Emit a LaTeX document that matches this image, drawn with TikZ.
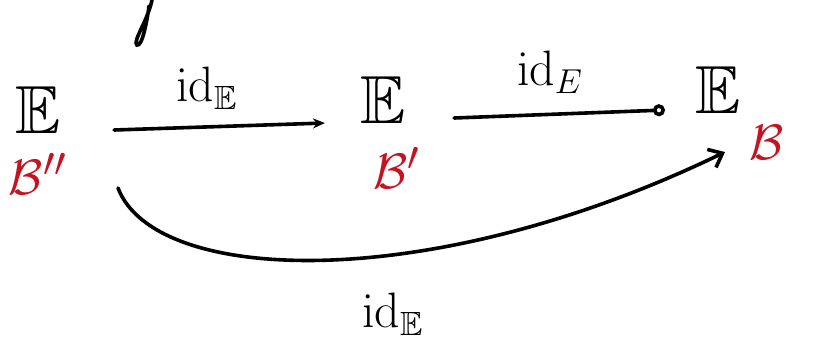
\documentclass[tikz,border=0pt]{standalone}
\usepackage{amssymb}
\usetikzlibrary{arrows.meta}
\definecolor{bred}{HTML}{C41422}
\begin{document}
\begin{tikzpicture}[x=0.5pt,y=-0.5pt,
  obj/.style={inner sep=0pt, font=\fontsize{34}{38}\selectfont},
  basis/.style={inner sep=0pt, text=bred, font=\fontsize{28}{32}\selectfont},
  lab/.style={inner sep=0pt, font=\fontsize{24}{28}\selectfont},
  conn/.style={line width=1.8pt, line cap=round}]
\useasboundingbox (0,0) rectangle (814,361);
% objects
\node[obj] (e1) at (38,110) {$\mathbb{E}$};
\node[obj] (e2) at (383,100) {$\mathbb{E}$};
\node[obj] (e3) at (718,90) {$\mathbb{E}$};
% bases
\node[basis] (b1) at (38,174) {$\mathcal{B}''$};
\node[basis] (b2) at (397,168) {$\mathcal{B}'$};
\node[basis] (b3) at (767,142) {$\mathcal{B}$};
% labels
\node[lab] (l1) at (207,88) {$\mathrm{id}_{\mathbb{E}}$};
\node[lab] (l2) at (550,72) {$\mathrm{id}_{E}$};
\node[lab] (l3) at (393,314) {$\mathrm{id}_{\mathbb{E}}$};
% connectors
\draw[conn,-{Stealth[length=6pt,width=5pt]}]
  ([shift={(53,20)}]e1.east) -- ([shift={(-35,23)}]e2.west);
\draw[conn,-{Circle[open,length=6pt,width=6pt]}]
  ([shift={(48,18)}]e2.east) -- ([shift={(-30,20)}]e3.west);
\coordinate (cs) at (118,188);
\coordinate (ce) at (725,152);
\draw[conn,-{Straight Barb[length=6pt,width=10pt]}]
  (cs) .. controls (155,285) and (430,295) .. (ce);
% stray stroke from the line above
\draw[line width=1.8pt, line cap=round]
  (152,0) .. controls (148,20) and (132,42) .. (137,45)
  .. controls (142,47) and (147,22) .. (149,6);
\end{tikzpicture}
\end{document}
